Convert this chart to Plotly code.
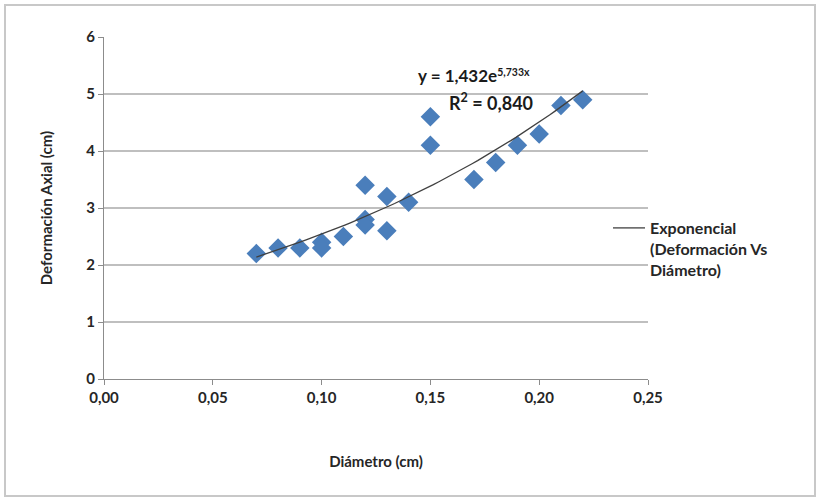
import numpy as np
import plotly.graph_objects as go

# Data
diametro = [0.07, 0.08, 0.09, 0.10, 0.10, 0.11, 0.12, 0.12, 0.12, 0.13, 0.13,
            0.14, 0.15, 0.15, 0.17, 0.18, 0.19, 0.20, 0.21, 0.22]
deformacion = [2.2, 2.3, 2.3, 2.4, 2.3, 2.5, 3.4, 2.8, 2.7, 3.2, 2.6,
               3.1, 4.6, 4.1, 3.5, 3.8, 4.1, 4.3, 4.8, 4.9]

# Exponential trendline reported on the chart
coef_a = 1.432
coef_b = 5.733
r2 = 0.840
x_ticks = [0.00, 0.05, 0.10, 0.15, 0.20, 0.25]
y_ticks = [0, 1, 2, 3, 4, 5, 6]

trend_x = np.linspace(min(diametro), max(diametro), 60)
trend_y = coef_a * np.exp(coef_b * trend_x)

FONT = "Lato"
W, H = 820, 500
L, R, T, B = 104, 172, 37, 121
pw, ph = W - L - R, H - T - B

def px2paper_x(px):
    return (px - L) / pw

def px2paper_y(py):
    return (H - B - py) / ph

TXT = "#262626"

fig = go.Figure()
fig.add_trace(go.Scatter(
    x=diametro, y=deformacion, mode="markers",
    marker=dict(symbol="diamond", size=15, color="#4a7ebb",
                line=dict(width=0)),
    showlegend=False, name="Deformación Vs Diámetro"))
fig.add_trace(go.Scatter(
    x=trend_x, y=trend_y, mode="lines",
    line=dict(color="#404040", width=1.3),
    name="Exponencial<br>(Deformación Vs<br>Diámetro)", showlegend=True))

fig.update_layout(
    width=W, height=H,
    margin=dict(l=L, r=R, t=T, b=B, pad=0, autoexpand=False),
    paper_bgcolor="white", plot_bgcolor="white",
    separators=",.",
    font=dict(family=FONT, size=14, color=TXT),
    xaxis=dict(range=[0, 0.25], tickvals=x_ticks, tickformat=".2f",
               showgrid=False, zeroline=False, showline=True,
               linecolor="#8c8c8c", linewidth=1.2, ticks="outside",
               ticklen=5, tickcolor="#8c8c8c", automargin=False,
               tickfont=dict(family=FONT, size=15, color=TXT, weight="bold"),
               title=dict(text="<b>Diámetro (cm)</b>", standoff=51,
                          font=dict(family=FONT, size=15, color=TXT))),
    yaxis=dict(range=[0, 6], tickvals=y_ticks, showgrid=True,
               gridcolor="#bfbfbf", gridwidth=1.5, zeroline=False,
               showline=True, linecolor="#8c8c8c", linewidth=1.2,
               ticks="outside", ticklen=5, tickcolor="#8c8c8c",
               automargin=False,
               tickfont=dict(family=FONT, size=15, color=TXT, weight="bold"),
               title=dict(text="<b>Deformación Axial (cm)</b>", standoff=29,
                          font=dict(family=FONT, size=15, color=TXT))),
    legend=dict(x=px2paper_x(608), y=px2paper_y(211), xanchor="left",
                yanchor="top", bgcolor="rgba(0,0,0,0)", valign="top",
                itemwidth=32,
                font=dict(family=FONT, size=16, color=TXT, weight="bold"),
                tracegroupgap=0),
    showlegend=True,
)

eq_txt = (f"<b>y = {coef_a:.3f}e</b>".replace(".", ",")
          + f"<span style='font-size:15px'><sup><b>{coef_b:.3f}x</b></sup></span>".replace(".", ","))
fig.add_annotation(
    x=px2paper_x(474), y=px2paper_y(75), xref="paper", yref="paper",
    xanchor="center", yanchor="middle",
    text=eq_txt,
    showarrow=False, font=dict(family=FONT, size=17, color="#1a1a1a"))
fig.add_annotation(
    x=px2paper_x(491), y=px2paper_y(102), xref="paper", yref="paper",
    xanchor="center", yanchor="middle",
    text=f"<b>R<sup>2</sup> = {r2:.3f}</b>".replace(".", ","),
    showarrow=False, font=dict(family=FONT, size=18, color="#1a1a1a"))

# outer chart border
fig.add_shape(type="rect", xref="paper", yref="paper",
              x0=px2paper_x(5), x1=px2paper_x(815),
              y0=px2paper_y(496), y1=px2paper_y(5),
              line=dict(color="#c8c8c8", width=2), fillcolor="rgba(0,0,0,0)",
              layer="below")

fig.write_html("out.html", config={"displayModeBar": False},
               post_script="document.body.style.margin='0';")
